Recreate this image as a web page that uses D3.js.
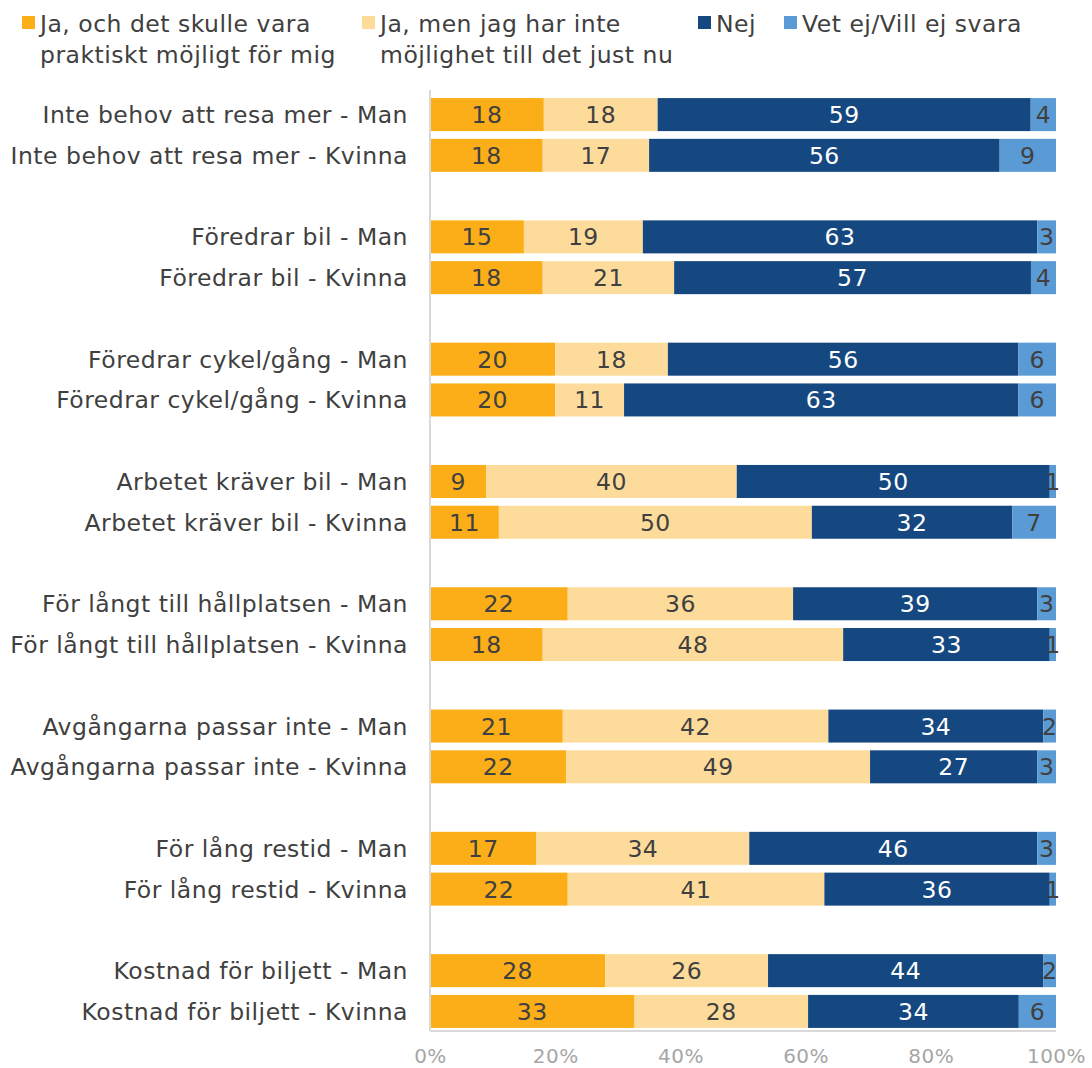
<!DOCTYPE html>
<html lang="sv">
<head>
<meta charset="UTF-8">
<title>Skäl att inte resa kollektivt</title>
<script src="https://d3js.org/d3.v7.min.js"></script>
<style>
  body { margin: 0; background: #fff; }
  svg { display: block; font-family: "DejaVu Sans", Verdana, sans-serif; }
</style>
</head>
<body>
<svg id="chart" width="1092" height="1068"></svg>
<script>
// kategorier (tom sträng = mellanrum mellan grupperna)
const categories = [
  "Inte behov att resa mer - Man", "Inte behov att resa mer - Kvinna", "",
  "Föredrar bil - Man", "Föredrar bil - Kvinna", "",
  "Föredrar cykel/gång - Man", "Föredrar cykel/gång - Kvinna", "",
  "Arbetet kräver bil - Man", "Arbetet kräver bil - Kvinna", "",
  "För långt till hållplatsen - Man", "För långt till hållplatsen - Kvinna", "",
  "Avgångarna passar inte - Man", "Avgångarna passar inte - Kvinna", "",
  "För lång restid - Man", "För lång restid - Kvinna", "",
  "Kostnad för biljett - Man", "Kostnad för biljett - Kvinna"
];

const seriesNames = [
  ["Ja, och det skulle vara", "praktiskt möjligt för mig"],
  ["Ja, men jag har inte", "möjlighet till det just nu"],
  ["Nej"],
  ["Vet ej/Vill ej svara"]
];
const colors = ["#FBAE17", "#FDDC9B", "#154880", "#5B9BD5"];
const labelColors = ["#404040", "#404040", "#ffffff", "#404040"];

const jaMojligt  = [18, 18, 15, 18, 20, 20,  9, 11, 22, 18, 21, 22, 17, 22, 28, 33];
const jaInte     = [18, 17, 19, 21, 18, 11, 40, 50, 36, 48, 42, 49, 34, 41, 26, 28];
const nej        = [59, 56, 63, 57, 56, 63, 50, 32, 39, 33, 34, 27, 46, 36, 44, 34];
const vetEj      = [ 4,  9,  3,  4,  6,  6,  1,  7,  3,  1,  2,  3,  3,  1,  2,  6];

const xTicks = [0, 0.2, 0.4, 0.6, 0.8, 1];

const FS = "23.5px", LS = "0.5px";

const svg = d3.select("#chart");
const margin = { left: 430, right: 36, top: 93, bottom: 37 };
const W = 1092, H = 1068;

const x = d3.scaleLinear().domain([0, 1]).range([margin.left, W - margin.right]);
const y = d3.scaleBand()
  .domain(categories.map((c, i) => i))
  .range([margin.top, H - margin.bottom])
  .paddingInner(0.19)
  .paddingOuter(0.1);

const rowNames = categories.filter(c => c !== "");
const rowSlot = categories.map((c, i) => c !== "" ? i : -1).filter(i => i >= 0);

const rows = rowNames.map((name, r) => {
  const vals = [jaMojligt[r], jaInte[r], nej[r], vetEj[r]];
  const total = d3.sum(vals);
  let acc = 0;
  const segs = vals.map((v, s) => {
    const seg = { s, v, x0: acc / total, x1: (acc + v) / total };
    acc += v;
    return seg;
  });
  return { name, slot: rowSlot[r], segs };
});

// staplar
const g = svg.append("g");
const rowG = g.selectAll("g.row").data(rows).enter().append("g")
  .attr("transform", d => `translate(0,${y(d.slot) + 1})`);

rowG.selectAll("rect").data(d => d.segs).enter().append("rect")
  .attr("x", d => x(d.x0))
  .attr("width", d => x(d.x1) - x(d.x0))
  .attr("y", 0)
  .attr("height", y.bandwidth())
  .attr("fill", d => colors[d.s]);

rowG.selectAll("text").data(d => d.segs).enter().append("text")
  .attr("x", d => (x(d.x0) + x(d.x1)) / 2)
  .attr("y", y.bandwidth() / 2)
  .attr("dy", "0.36em")
  .attr("text-anchor", "middle")
  .style("font-size", FS)
  .style("letter-spacing", LS)
  .attr("fill", d => labelColors[d.s])
  .text(d => d.v);

// kategorietiketter
g.selectAll("text.cat").data(rows).enter().append("text")
  .attr("class", "cat")
  .attr("x", margin.left - 22)
  .attr("y", d => y(d.slot) + 1 + y.bandwidth() / 2)
  .attr("dy", "0.36em")
  .attr("text-anchor", "end")
  .style("font-size", FS)
  .style("letter-spacing", LS)
  .attr("fill", "#404040")
  .text(d => d.name);

// axlar
const yTop = margin.top - 3, yBot = H - margin.bottom;
svg.append("line").attr("x1", x(0)).attr("x2", x(0)).attr("y1", yTop).attr("y2", yBot)
  .attr("stroke", "#d9d9d9").attr("stroke-width", 2);
svg.append("line").attr("x1", x(0)).attr("x2", x(1)).attr("y1", yBot).attr("y2", yBot)
  .attr("stroke", "#d9d9d9").attr("stroke-width", 2);

const xAxis = svg.append("g")
  .attr("transform", `translate(0,${yBot})`)
  .call(d3.axisBottom(x).tickValues(xTicks).tickFormat(d3.format(".0%")).tickSize(0).tickPadding(18));
xAxis.select(".domain").remove();
xAxis.selectAll("text")
  .style("font-family", "\"DejaVu Sans\", Verdana, sans-serif")
  .style("font-size", "20px")
  .style("letter-spacing", "0.5px")
  .attr("fill", "#a6a6a6");

// förklaring
const legendX = [22, 362, 698, 784];
const leg = svg.append("g").selectAll("g").data(seriesNames).enter().append("g")
  .attr("transform", (d, i) => `translate(${legendX[i]},0)`);
leg.append("rect").attr("x", 0).attr("y", 16).attr("width", 13).attr("height", 13)
  .attr("fill", (d, i) => colors[i]);
leg.append("text")
  .attr("x", 18)
  .attr("y", 32)
  .style("font-size", FS)
  .style("letter-spacing", LS)
  .attr("fill", "#404040")
  .selectAll("tspan").data(d => d).enter().append("tspan")
  .attr("x", 18)
  .attr("dy", (d, i) => i === 0 ? 0 : 31)
  .text(d => d);
</script>
</body>
</html>
